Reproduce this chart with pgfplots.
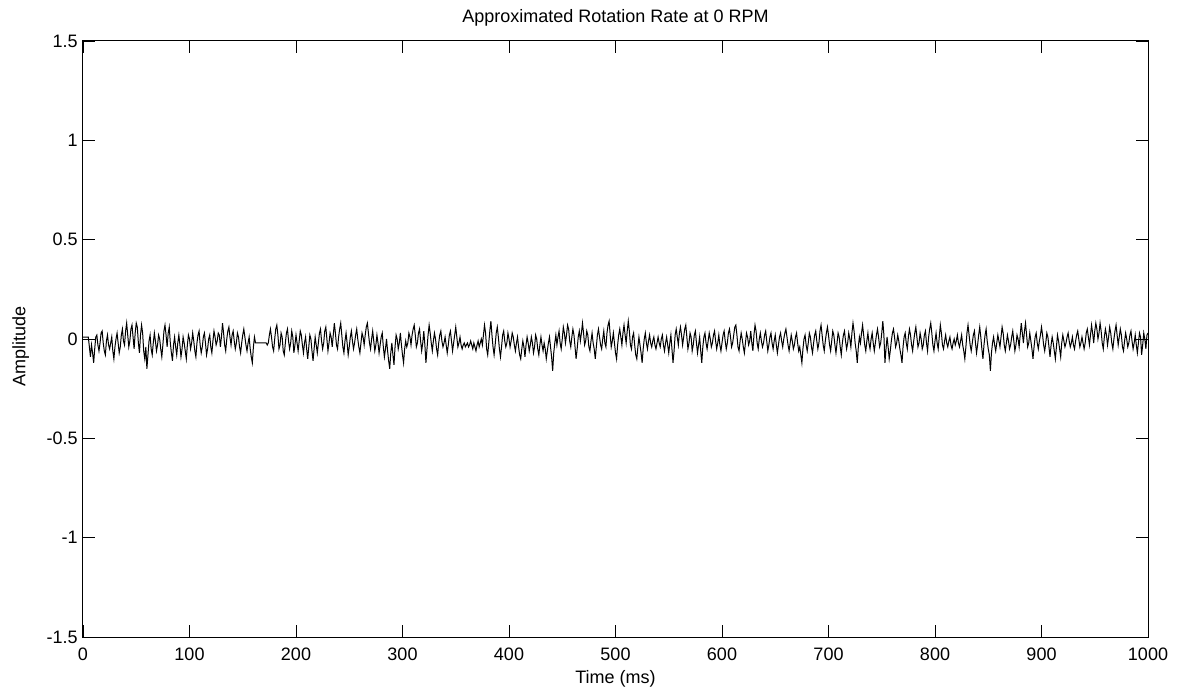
\documentclass[border=0pt]{standalone}
\usepackage{pgfplots}
\pgfplotsset{compat=1.18}
\usepackage{fontspec}
\setmainfont{Liberation Sans}
\begin{document}
\begin{tikzpicture}
\begin{axis}[
  at={(0,0)}, anchor=south west,
  scale only axis,
  width=532.5pt, height=298pt,
  xmin=0, xmax=1000, ymin=-1.5, ymax=1.5,
  xtick={0,100,...,1000},
  xticklabels={0,100,200,300,400,500,600,700,800,900,1000},
  ytick={-1.5,-1,-0.5,0,0.5,1,1.5},
  yticklabels={-1.5,-1,-0.5,0,0.5,1,1.5},
  tick align=inside,
  tick pos=both,
  xticklabel pos=left, yticklabel pos=left,
  major tick length=6pt,
  axis line style={line width=0.5pt},
  every tick/.style={black, line width=0.4pt},
  xticklabel style={font=\fontsize{9}{10}\selectfont, anchor=base, inner sep=0pt, yshift=-11.5pt},
  yticklabel style={font=\fontsize{9}{10}\selectfont, anchor=east, inner sep=0pt, xshift=-2.5pt},
  title={Approximated Rotation Rate at 0 RPM},
  title style={font=\fontsize{9}{10}\selectfont, at={(axis description cs:0.5,1.0101)}, anchor=base, inner sep=0pt},
  xlabel={Time (ms)},
  xlabel style={font=\fontsize{9}{10}\selectfont, at={(axis description cs:0.5,-0.0772)}, anchor=base, inner sep=0pt},
  ylabel={Amplitude},
  ylabel style={font=\fontsize{9}{10}\selectfont, at={(axis description cs:-0.054,0.487)}, anchor=base, inner sep=0pt},
]
\addplot[black, line width=0.5pt, mark=none] table[row sep=\\, header=false, x expr=\coordindex, y index=0] {
0.01\\ 0.01\\ 0.01\\ 0.01\\ 0.01\\ 0.01\\ -0.04\\ -0.09\\ -0.03\\ -0.07\\ -0.12\\ -0.05\\ 0.01\\ 0.02\\ -0.03\\ -0.06\\ -0.02\\ 0.03\\ 0.04\\ -0.02\\
-0.06\\ -0.08\\ -0.01\\ 0.02\\ -0.03\\ -0.05\\ -0.02\\ 0.01\\ -0.06\\ -0.10\\ -0.04\\ 0.00\\ 0.03\\ -0.02\\ -0.07\\ -0.04\\ 0.02\\ 0.05\\ -0.01\\ -0.03\\
0.04\\ 0.08\\ 0.02\\ -0.04\\ -0.01\\ 0.05\\ 0.07\\ 0.01\\ -0.05\\ 0.03\\ 0.08\\ 0.06\\ -0.02\\ -0.07\\ 0.02\\ 0.07\\ 0.03\\ -0.06\\ -0.10\\ -0.04\\
-0.15\\ -0.08\\ -0.01\\ 0.02\\ -0.05\\ -0.08\\ -0.02\\ 0.03\\ -0.01\\ -0.06\\ -0.03\\ 0.02\\ 0.00\\ -0.05\\ -0.09\\ -0.03\\ 0.04\\ 0.07\\ 0.02\\ -0.04\\
0.03\\ 0.06\\ -0.02\\ -0.07\\ -0.11\\ -0.03\\ 0.01\\ -0.04\\ -0.08\\ -0.02\\ 0.02\\ -0.03\\ -0.09\\ -0.05\\ 0.01\\ -0.02\\ -0.06\\ -0.10\\ -0.03\\ 0.02\\
0.00\\ -0.05\\ -0.02\\ 0.03\\ -0.01\\ -0.06\\ -0.09\\ -0.02\\ 0.02\\ 0.04\\ -0.03\\ -0.07\\ -0.04\\ 0.01\\ 0.03\\ -0.02\\ -0.08\\ -0.05\\ 0.00\\ 0.02\\
-0.04\\ -0.07\\ -0.01\\ 0.04\\ 0.01\\ -0.03\\ -0.01\\ 0.03\\ 0.02\\ -0.04\\ 0.01\\ 0.08\\ 0.03\\ -0.03\\ -0.06\\ 0.00\\ 0.04\\ 0.06\\ 0.01\\ -0.03\\
0.02\\ 0.04\\ -0.01\\ -0.05\\ -0.02\\ 0.03\\ 0.01\\ -0.04\\ -0.07\\ -0.02\\ 0.02\\ 0.05\\ 0.01\\ -0.03\\ -0.06\\ -0.02\\ 0.01\\ -0.05\\ -0.09\\ -0.12\\
-0.04\\ 0.01\\ -0.02\\ -0.02\\ -0.02\\ -0.02\\ -0.02\\ -0.02\\ -0.02\\ -0.02\\ -0.02\\ -0.02\\ -0.02\\ -0.03\\ -0.02\\ 0.02\\ 0.05\\ 0.01\\ -0.04\\ -0.06\\
0.00\\ 0.05\\ 0.07\\ 0.02\\ -0.05\\ -0.03\\ 0.03\\ 0.01\\ -0.06\\ -0.08\\ -0.02\\ 0.03\\ 0.05\\ -0.01\\ -0.05\\ -0.02\\ 0.04\\ 0.01\\ -0.07\\ -0.03\\
0.02\\ -0.02\\ -0.06\\ -0.01\\ 0.04\\ 0.02\\ -0.03\\ -0.07\\ -0.02\\ 0.01\\ -0.05\\ -0.10\\ -0.04\\ 0.02\\ 0.00\\ -0.06\\ -0.11\\ -0.05\\ 0.01\\ -0.03\\
-0.07\\ -0.02\\ 0.03\\ 0.05\\ -0.01\\ -0.05\\ -0.02\\ 0.04\\ 0.06\\ 0.00\\ -0.06\\ -0.02\\ 0.03\\ 0.01\\ -0.04\\ 0.02\\ 0.08\\ 0.03\\ -0.03\\ -0.05\\
0.01\\ 0.05\\ 0.08\\ 0.02\\ -0.04\\ -0.07\\ -0.01\\ 0.03\\ -0.02\\ -0.08\\ -0.04\\ 0.01\\ 0.04\\ -0.01\\ -0.05\\ -0.02\\ 0.02\\ 0.05\\ 0.00\\ -0.04\\
-0.07\\ -0.02\\ 0.03\\ 0.01\\ -0.03\\ 0.02\\ 0.06\\ 0.08\\ 0.03\\ -0.02\\ -0.05\\ 0.00\\ 0.04\\ -0.01\\ -0.06\\ -0.03\\ 0.02\\ -0.02\\ -0.07\\ -0.03\\
0.01\\ 0.03\\ -0.04\\ -0.09\\ -0.05\\ 0.00\\ -0.06\\ -0.11\\ -0.15\\ -0.07\\ -0.02\\ -0.08\\ -0.13\\ -0.04\\ 0.02\\ 0.00\\ -0.05\\ -0.02\\ 0.03\\ -0.03\\
-0.08\\ -0.12\\ -0.05\\ -0.01\\ -0.04\\ -0.02\\ 0.03\\ 0.01\\ -0.03\\ 0.02\\ 0.05\\ 0.07\\ 0.02\\ -0.04\\ -0.02\\ 0.03\\ 0.05\\ -0.01\\ -0.06\\ -0.02\\
0.04\\ -0.03\\ -0.12\\ -0.05\\ 0.02\\ 0.07\\ 0.03\\ -0.02\\ -0.06\\ -0.01\\ 0.03\\ 0.00\\ -0.05\\ -0.08\\ -0.02\\ 0.02\\ 0.04\\ -0.01\\ -0.04\\ -0.02\\
0.01\\ -0.03\\ -0.07\\ -0.03\\ 0.02\\ 0.04\\ -0.01\\ -0.06\\ -0.02\\ 0.02\\ 0.06\\ 0.01\\ -0.04\\ -0.02\\ 0.01\\ -0.03\\ -0.05\\ -0.03\\ -0.02\\ -0.04\\
-0.03\\ -0.02\\ -0.04\\ -0.03\\ -0.01\\ -0.03\\ -0.05\\ -0.02\\ -0.04\\ -0.06\\ -0.03\\ -0.01\\ -0.04\\ -0.02\\ 0.00\\ -0.03\\ 0.02\\ 0.07\\ 0.03\\ -0.05\\
-0.08\\ -0.02\\ 0.04\\ 0.09\\ 0.02\\ -0.04\\ -0.08\\ -0.03\\ 0.03\\ 0.06\\ 0.01\\ -0.05\\ -0.09\\ -0.04\\ 0.02\\ 0.04\\ -0.01\\ -0.04\\ -0.02\\ 0.03\\
0.00\\ -0.04\\ -0.01\\ 0.03\\ 0.01\\ -0.03\\ -0.06\\ -0.02\\ 0.01\\ -0.04\\ -0.08\\ -0.10\\ -0.05\\ -0.01\\ -0.04\\ -0.09\\ -0.03\\ 0.01\\ -0.02\\ -0.06\\
-0.03\\ 0.01\\ -0.02\\ -0.07\\ -0.04\\ 0.02\\ 0.00\\ -0.05\\ -0.08\\ -0.03\\ 0.01\\ -0.03\\ -0.06\\ -0.02\\ -0.05\\ -0.10\\ -0.06\\ -0.02\\ 0.01\\ -0.04\\
-0.09\\ -0.16\\ -0.07\\ -0.02\\ 0.02\\ -0.03\\ 0.01\\ 0.04\\ -0.02\\ -0.05\\ 0.00\\ 0.06\\ 0.03\\ -0.02\\ 0.02\\ 0.07\\ 0.05\\ -0.01\\ -0.04\\ 0.01\\
0.05\\ 0.02\\ -0.04\\ -0.10\\ -0.05\\ 0.01\\ 0.04\\ -0.01\\ 0.03\\ 0.08\\ 0.03\\ -0.03\\ -0.01\\ 0.04\\ 0.02\\ -0.04\\ -0.06\\ -0.01\\ 0.03\\ -0.02\\
-0.05\\ -0.10\\ -0.04\\ 0.02\\ 0.05\\ 0.01\\ -0.03\\ -0.05\\ 0.00\\ 0.04\\ -0.02\\ -0.04\\ 0.03\\ 0.07\\ 0.09\\ 0.02\\ -0.04\\ -0.01\\ 0.03\\ -0.02\\
-0.07\\ -0.10\\ -0.03\\ 0.02\\ 0.05\\ 0.01\\ -0.03\\ 0.03\\ 0.07\\ 0.02\\ -0.02\\ 0.04\\ 0.09\\ 0.04\\ -0.03\\ -0.05\\ 0.01\\ 0.03\\ -0.03\\ -0.08\\
-0.10\\ -0.04\\ 0.01\\ -0.03\\ -0.07\\ -0.12\\ -0.05\\ 0.00\\ 0.03\\ -0.02\\ -0.05\\ -0.01\\ 0.02\\ -0.02\\ -0.04\\ -0.01\\ 0.01\\ -0.03\\ -0.05\\ -0.02\\
0.01\\ -0.02\\ -0.04\\ 0.00\\ 0.02\\ -0.03\\ -0.06\\ -0.02\\ 0.01\\ -0.03\\ -0.07\\ -0.02\\ 0.02\\ -0.05\\ -0.12\\ -0.06\\ 0.02\\ 0.05\\ 0.01\\ -0.03\\
0.03\\ 0.06\\ 0.02\\ -0.03\\ 0.01\\ 0.05\\ 0.07\\ 0.01\\ -0.05\\ -0.02\\ 0.03\\ 0.01\\ -0.06\\ -0.03\\ 0.02\\ 0.04\\ -0.02\\ -0.07\\ -0.03\\ 0.01\\
-0.06\\ -0.12\\ -0.04\\ 0.01\\ 0.03\\ -0.02\\ -0.05\\ -0.01\\ 0.03\\ 0.00\\ -0.04\\ -0.02\\ 0.02\\ 0.04\\ -0.01\\ -0.05\\ -0.02\\ 0.02\\ -0.03\\ -0.06\\
-0.02\\ 0.02\\ 0.04\\ -0.01\\ -0.05\\ -0.02\\ 0.03\\ 0.05\\ 0.01\\ -0.04\\ -0.02\\ 0.02\\ 0.06\\ 0.07\\ 0.02\\ -0.04\\ -0.06\\ -0.01\\ 0.03\\ 0.00\\
-0.04\\ -0.07\\ -0.02\\ 0.03\\ 0.01\\ -0.03\\ -0.01\\ 0.04\\ -0.02\\ -0.06\\ 0.02\\ 0.07\\ 0.04\\ -0.02\\ -0.05\\ 0.00\\ 0.03\\ -0.01\\ -0.04\\ -0.02\\
0.02\\ 0.04\\ -0.01\\ -0.06\\ -0.03\\ 0.01\\ 0.03\\ -0.02\\ -0.05\\ -0.01\\ 0.02\\ -0.03\\ -0.07\\ -0.03\\ 0.01\\ 0.03\\ -0.01\\ -0.04\\ 0.00\\ 0.03\\
0.05\\ 0.01\\ -0.03\\ -0.06\\ -0.02\\ 0.02\\ -0.01\\ -0.05\\ -0.03\\ 0.01\\ 0.03\\ -0.02\\ -0.06\\ -0.04\\ -0.08\\ -0.12\\ -0.05\\ 0.00\\ 0.02\\ -0.03\\
-0.06\\ -0.02\\ 0.03\\ 0.01\\ -0.04\\ -0.07\\ -0.02\\ 0.02\\ 0.04\\ -0.01\\ -0.05\\ -0.02\\ 0.04\\ 0.07\\ 0.02\\ -0.03\\ -0.06\\ -0.01\\ 0.03\\ 0.06\\
0.02\\ -0.03\\ -0.06\\ -0.01\\ 0.04\\ 0.02\\ -0.03\\ -0.07\\ -0.02\\ 0.03\\ 0.01\\ -0.04\\ -0.08\\ -0.02\\ 0.02\\ 0.04\\ -0.01\\ -0.05\\ -0.02\\ 0.03\\
0.00\\ -0.04\\ 0.03\\ 0.08\\ 0.04\\ -0.02\\ -0.06\\ -0.12\\ -0.04\\ 0.01\\ -0.02\\ 0.03\\ 0.07\\ 0.02\\ -0.03\\ -0.06\\ -0.01\\ 0.03\\ -0.02\\ -0.05\\
0.00\\ 0.03\\ -0.02\\ -0.06\\ -0.02\\ 0.02\\ 0.05\\ 0.01\\ -0.04\\ -0.02\\ 0.03\\ 0.09\\ 0.02\\ -0.12\\ -0.05\\ 0.01\\ -0.04\\ -0.10\\ -0.06\\ -0.01\\
0.03\\ 0.05\\ 0.01\\ -0.04\\ -0.02\\ 0.02\\ -0.01\\ -0.05\\ -0.08\\ -0.12\\ -0.04\\ 0.01\\ 0.03\\ -0.02\\ -0.05\\ 0.01\\ 0.05\\ 0.02\\ -0.03\\ -0.06\\
-0.01\\ 0.03\\ 0.06\\ 0.01\\ -0.04\\ -0.02\\ 0.03\\ 0.00\\ -0.05\\ -0.03\\ 0.02\\ 0.04\\ -0.02\\ -0.06\\ 0.01\\ 0.05\\ 0.08\\ 0.03\\ -0.03\\ -0.06\\
-0.01\\ 0.03\\ -0.02\\ -0.05\\ 0.01\\ 0.07\\ 0.03\\ -0.03\\ -0.05\\ -0.01\\ 0.02\\ -0.02\\ -0.04\\ -0.01\\ 0.01\\ -0.03\\ -0.05\\ -0.02\\ 0.00\\ -0.03\\
-0.01\\ 0.02\\ -0.02\\ -0.04\\ -0.01\\ 0.02\\ -0.03\\ -0.06\\ -0.10\\ -0.04\\ 0.03\\ 0.07\\ 0.02\\ -0.03\\ -0.06\\ -0.02\\ 0.02\\ 0.04\\ -0.02\\ -0.07\\
-0.03\\ 0.02\\ 0.06\\ 0.01\\ -0.05\\ -0.10\\ -0.03\\ 0.02\\ 0.05\\ -0.01\\ -0.05\\ -0.08\\ -0.16\\ -0.07\\ -0.02\\ 0.01\\ -0.03\\ -0.06\\ -0.02\\ 0.02\\
-0.01\\ -0.04\\ 0.01\\ 0.06\\ 0.03\\ -0.03\\ -0.06\\ -0.02\\ 0.02\\ -0.01\\ -0.05\\ -0.03\\ 0.01\\ 0.04\\ -0.01\\ -0.06\\ -0.03\\ 0.02\\ 0.00\\ -0.04\\
0.02\\ 0.08\\ 0.03\\ -0.02\\ 0.04\\ 0.08\\ 0.02\\ -0.04\\ -0.02\\ 0.03\\ -0.01\\ -0.05\\ -0.10\\ -0.04\\ 0.01\\ 0.03\\ -0.02\\ -0.05\\ -0.01\\ 0.02\\
0.06\\ 0.02\\ -0.03\\ -0.06\\ -0.02\\ 0.03\\ 0.01\\ -0.04\\ -0.09\\ -0.03\\ 0.01\\ -0.02\\ -0.06\\ -0.10\\ -0.04\\ 0.02\\ -0.01\\ -0.05\\ -0.09\\ -0.02\\
0.02\\ -0.01\\ -0.04\\ -0.02\\ 0.01\\ 0.03\\ -0.01\\ -0.04\\ -0.02\\ 0.01\\ -0.03\\ -0.05\\ -0.01\\ 0.02\\ 0.04\\ 0.00\\ -0.04\\ -0.02\\ 0.01\\ -0.02\\
-0.05\\ -0.02\\ 0.03\\ 0.05\\ 0.01\\ -0.03\\ 0.02\\ 0.07\\ 0.03\\ -0.02\\ 0.04\\ 0.08\\ 0.05\\ 0.00\\ 0.03\\ 0.08\\ 0.04\\ -0.02\\ -0.05\\ 0.01\\
0.05\\ 0.02\\ -0.03\\ 0.01\\ 0.06\\ 0.03\\ -0.02\\ -0.05\\ 0.00\\ 0.04\\ 0.07\\ 0.02\\ -0.03\\ 0.01\\ 0.05\\ 0.02\\ -0.04\\ -0.06\\ -0.01\\ 0.03\\
0.00\\ -0.04\\ -0.02\\ 0.02\\ 0.04\\ -0.01\\ -0.05\\ -0.02\\ 0.02\\ -0.03\\ -0.07\\ -0.02\\ 0.03\\ 0.01\\ -0.08\\ -0.03\\ 0.03\\ 0.00\\ -0.05\\ 0.02\\
0.03\\
};
\end{axis}
\pgfresetboundingbox
\path[use as bounding box] (-41.5pt,-29.5pt) rectangle (552.5pt,318.5pt);
\end{tikzpicture}
\end{document}
